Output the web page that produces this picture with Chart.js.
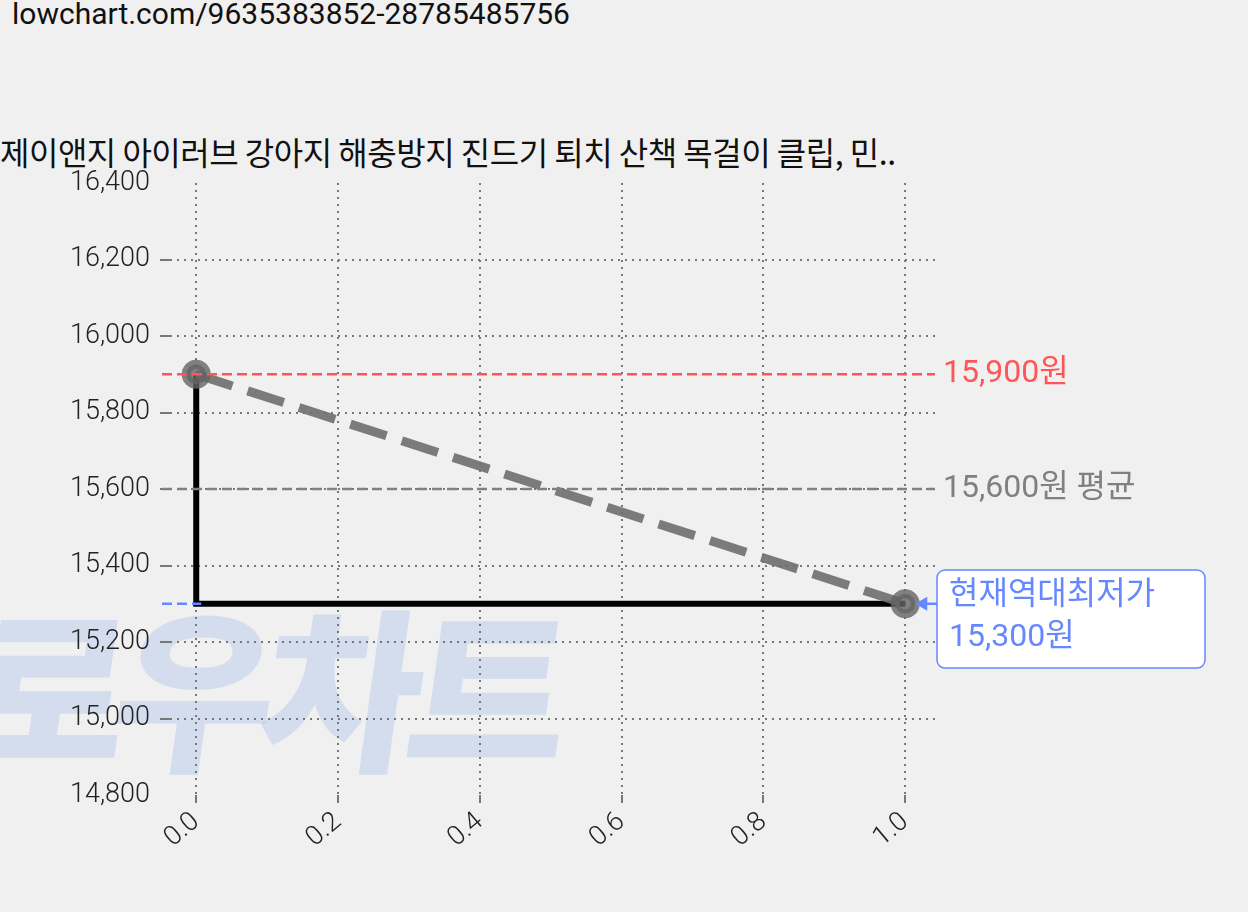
<!DOCTYPE html>
<html><head><meta charset="utf-8">
<script src="https://cdn.jsdelivr.net/npm/chart.js@4.4.0/dist/chart.umd.min.js"></script>
<style>
body{margin:0;background:#f0f0f0;width:1248px;height:912px;overflow:hidden;font-family:Roboto,"Noto Sans CJK KR",sans-serif;}
#wm{position:absolute;left:-30px;top:555px;font:900 175px "Noto Sans CJK KR";color:rgba(160,185,235,0.35);letter-spacing:-14px;white-space:nowrap;transform:skewX(-8deg);}
#url{position:absolute;left:12px;top:-4px;font-size:30px;color:#111;}
#title{position:absolute;left:0;top:128px;font-size:32px;color:#111;font-family:"Noto Sans CJK KR",sans-serif;letter-spacing:-0.5px;}
canvas{position:absolute;left:0;top:0;}
</style></head><body>
<div id="wm">로우차트</div>
<div id="url">lowchart.com/9635383852-28785485756</div>
<div id="title">제이앤지 아이러브 강아지 해충방지 진드기 퇴치 산책 목걸이 클립, 민..</div>
<canvas id="c" width="1248" height="912"></canvas>
<script>
const stepX=[0,0,1];
const stepY=[15900,15300,15300];
const trendX=[0,1];
const trendY=[15900,15300];
const maxPrice=15900, avgPrice=15600, minPrice=15300;
const xTicks=[0,0.2,0.4,0.6,0.8,1.0];
const yTicks=[14800,15000,15200,15400,15600,15800,16000,16200,16400];

const refLines={id:'refLines',afterDatasetsDraw(ch){
 const c=ch.ctx,a=ch.chartArea,y=ch.scales.y,x=ch.scales.x;
 c.save();c.lineWidth=2.5;c.setLineDash([10,5]);
 let yy=y.getPixelForValue(maxPrice);
 c.strokeStyle='#ff5555';c.beginPath();c.moveTo(a.left-8,yy);c.lineTo(a.right,yy);c.stroke();
 yy=y.getPixelForValue(avgPrice);
 c.strokeStyle='#808080';c.beginPath();c.moveTo(a.left-8,yy);c.lineTo(a.right,yy);c.stroke();
 yy=y.getPixelForValue(minPrice);
 c.strokeStyle='#6688ff';c.beginPath();c.moveTo(a.left-8,yy);c.lineTo(x.getPixelForValue(0)+5,yy);c.stroke();
 c.setLineDash([]);
 c.font='32px Roboto, "Noto Sans CJK KR"';c.textBaseline='middle';
 c.fillStyle='#ff5555';c.fillText('15,900원',a.right+8,y.getPixelForValue(maxPrice));
 c.fillStyle='#808080';c.fillText('15,600원 평균',a.right+8,y.getPixelForValue(avgPrice));
 const bx=937,by=570,bw=268,bh=98;
 c.fillStyle='#fff';c.strokeStyle='#6688ff';c.lineWidth=1.5;
 c.beginPath();c.roundRect(bx,by,bw,bh,8);c.fill();c.stroke();
 c.fillStyle='#6688ff';
 c.fillText('현재역대최저가',bx+12,by+26);c.fillText('15,300원',bx+12,by+68);
 const px=x.getPixelForValue(1),py=y.getPixelForValue(minPrice);
 c.lineWidth=2.5;c.beginPath();c.moveTo(bx,py);c.lineTo(px+14,py);c.stroke();
 c.beginPath();c.moveTo(px+10,py);c.lineTo(px+22,py-7);c.lineTo(px+22,py+7);c.closePath();c.fill();
 c.restore();
}};

new Chart(document.getElementById('c'),{
 type:'scatter',
 data:{datasets:[
  {data:stepX.map((v,i)=>({x:v,y:stepY[i]})),showLine:true,borderColor:'#000',borderWidth:6,pointRadius:0,order:2},
  {data:trendX.map((v,i)=>({x:v,y:trendY[i]})),showLine:true,borderColor:'rgba(110,110,110,0.9)',borderWidth:9,borderDash:[38,16],
   pointRadius:10,pointBackgroundColor:'rgba(100,100,100,0.8)',pointBorderColor:'rgba(100,100,100,0.8)',order:1}
 ]},
 options:{responsive:false,animation:false,
  layout:{padding:{top:183,right:313,left:0,bottom:0}},
  plugins:{legend:{display:false},tooltip:{enabled:false}},
  scales:{
   x:{type:'linear',min:-0.037,max:1.042,
    afterBuildTicks(s){s.ticks=xTicks.map(v=>({value:v}));},
    afterFit(s){s.height=117;},
    grid:{color:'#777',lineWidth:2,drawTicks:true,tickLength:8},border:{display:false,dash:[2,5]},
    ticks:{color:'#222',font:{size:27,family:'Roboto',weight:'300'},maxRotation:40,minRotation:40,callback:v=>v.toFixed(1)}},
   y:{min:14800,max:16400,
    afterBuildTicks(s){s.ticks=yTicks.map(v=>({value:v}));},
    afterFit(s){s.width=170;},
    grid:{color:(ctx)=>ctx.tick&&(ctx.tick.value==14800||ctx.tick.value==16400)?'rgba(0,0,0,0)':'#777',lineWidth:2,tickLength:10},border:{display:false,dash:[2,5]},
    ticks:{color:'#222',font:{size:27,family:'Roboto',weight:'300'},padding:10,callback:v=>v.toLocaleString('en-US')}}
  }},
 plugins:[refLines]
});
</script></body></html>
